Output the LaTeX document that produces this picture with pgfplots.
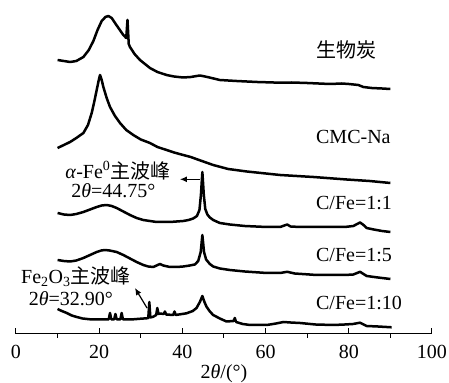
\documentclass[border=0pt]{standalone}
\usepackage{pgfplots}
\pgfplotsset{compat=1.18}
\usetikzlibrary{arrows.meta}
\usepackage{fontspec}
\setmainfont{Liberation Serif}
\newfontfamily\cjk{Noto Sans CJK SC}
\newcommand{\fs}{\fontsize{20}{24}\selectfont}
\begin{document}
\begin{tikzpicture}
\begin{axis}[
  scale only axis, width=416pt, height=334pt,
  xmin=0, xmax=100, ymin=49, ymax=383,
  axis x line=bottom, axis y line=none, ytick=\empty,
  x axis line style={-, line width=1pt, black},
  xtick={0,20,...,100}, minor xtick={10,30,...,90},
  tick align=inside, major tick length=6pt, minor tick length=-4pt,
  tick style={black, line width=1pt},
  /pgf/number format/assume math mode=true,
  xticklabel style={font=\fs, anchor=north, inner sep=0pt},
  xticklabel shift=11pt,
  clip=false,
  every axis plot/.append style={line width=2.5pt, line join=round, no markers},
]
% biochar
\addplot[black] table[y expr=383-\thisrow{py}] {
x py
10 60
11.5 61
13 62
14.5 61
16.2 57
17.5 50
18.6 41
19.6 30
20.6 21
21.5 17
22.2 16
23 18
23.8 23
24.8 29
25.8 35
26.5 38
26.8 20
27.1 44
27.4 47
28.5 54
29.8 60
31 64
32.2 68
34 72
36.2 75
38 76.5
40.2 77.5
42 77
44.2 75.5
46 77
49 80
53 81
58 82
63.5 82.7
66.3 82.5
70 83
75.5 84
78.3 83.5
80 84
82.3 85
83.5 87
85.5 88
88 88.5
90 89
};
% CMC-Na
\addplot[black] table[y expr=383-\thisrow{py}] {
x py
10 148
11.5 145
13 142
14.5 138
16.2 133
17.3 125
18.2 113
18.8 102
19.4 90
19.9 80
20.2 75
20.6 80
21 87
21.8 98
22.6 107
23.8 116
25 123
26.5 130
28.2 135
30 139.5
32.2 143
34 147
36.2 150
38 152.5
40.2 155
42 157
44 160
47.4 165
51 169
55.5 171.5
63.5 175
71.5 177
79.5 179.5
85 181
90 183
};
% C/Fe=1:1
\addplot[black] table[y expr=383-\thisrow{py}] {
x py
10 213
11.5 214.5
13 215
14.5 214
16.2 212
17.8 209.5
19.4 207
20.6 205.5
21.8 205
23 206
24.2 208
25.8 211.5
27.4 215
29 218
30.6 220
32.2 221
33.8 222
35.4 222
37 222
38.6 221.5
40.2 221
41.5 220
42.6 218.5
43.5 216
44.1 210
44.45 195
44.8 172
45.15 195
45.5 209
46 214.5
46.6 217.5
47.4 220
49 223
51.4 224.5
55 226
60.3 227
63.5 227
64.5 225.5
65.2 224.5
66 226.5
68.3 227
72 227
76.3 227
79 227
81.1 226
82 224
82.7 222.5
83.4 224.5
84.3 228
86 229.5
88 231
90 232
};
% C/Fe=1:5
\addplot[black] table[y expr=383-\thisrow{py}] {
x py
10 260
11.5 261
13 261.5
14.5 260.5
16.2 258
17.8 255
19.4 252
20.5 250.5
21.4 250
22.5 250.5
24.2 252
25.8 255
27.4 258.5
29 262
30.6 265
31.8 266.5
33 267
33.8 265.5
34.6 264
35.4 265.5
37 267
38.6 267
40.2 266.5
41.8 265.5
43 264.5
43.8 261
44.4 252
44.8 235
45.2 252
45.7 259.5
46.6 264
47.4 266.5
49 268.5
51.4 270
55 271.5
60.3 273
63.5 273
65.2 271.8
67 273.5
72.3 275
76 275
79 275
81.1 274.5
82.7 271.8
84.3 276
87 277.5
90 279
};
% C/Fe=1:10
\addplot[black] table[y expr=383-\thisrow{py}] {
x py
10 309
11 311
12.2 313
13.4 315.5
14.6 317
16 318.5
17.8 319.3
20 319.5
22.3 319.3
22.6 313
22.9 319.3
23.6 319.3
23.9 314
24.2 319.3
25.1 319.3
25.4 313
25.7 319.3
28.2 319.3
30 318.7
31.4 318.3
31.8 318
32.05 302
32.3 317.5
33 316.7
33.7 315
33.97 308
34.25 314
34.6 313.5
35.5 314
35.8 311.5
36.1 314.5
37.8 315
38.1 311.5
38.4 315
41 313.3
42.5 311
43.4 308
44.2 302
44.8 296
45.3 302
45.8 306.7
46.6 311.5
47.4 315
49 318.5
50.6 321.5
52.3 321
52.6 318
52.9 322
54.5 324
56.3 325
60.3 325
62.5 323.5
64.3 322
66 322.5
68.3 323
72 324.5
76.3 325
79 324.5
81 324
82.7 322.7
84.3 326
87 326.5
90.3 327.3
};
% labels
\node[anchor=west, inner sep=0pt, font=\fs] at (axis cs:72.1,333) {\cjk 生物炭};
\node[anchor=west, inner sep=0pt, font=\fs] at (axis cs:72.1,246) {CMC-Na};
\node[anchor=west, inner sep=0pt, font=\fs] at (axis cs:72.1,180) {C/Fe=1:1};
\node[anchor=west, inner sep=0pt, font=\fs] at (axis cs:72.1,128) {C/Fe=1:5};
\node[anchor=west, inner sep=0pt, font=\fs] at (axis cs:72.1,80.5) {C/Fe=1:10};
% annotations
\node[inner sep=0pt, font=\fs] at (axis cs:24.5,212.5) {\textit{α}-Fe\textsuperscript{0}{\cjk 主波峰}};
\node[inner sep=0pt, font=\fs] at (axis cs:23.4,192) {2\textit{θ}=44.75°};
\draw[-{Latex[length=7pt,width=6pt]}, line width=1.2pt] (axis cs:44.2,203.7) -- (axis cs:39.4,203.7);
\node[inner sep=0pt, font=\fs] at (axis cs:14.4,106) {Fe\textsubscript{2}O\textsubscript{3}{\cjk 主波峰}};
\node[inner sep=0pt, font=\fs] at (axis cs:13.2,84) {2\textit{θ}=32.90°};
\draw[-{Latex[length=7pt,width=6pt]}, line width=1.2pt] (axis cs:31.5,75) -- (axis cs:28.6,95);
% x label
\node[inner sep=0pt, font=\fs] at (axis cs:50,9.8) {2\textit{θ}/(°)};
\coordinate (bbA) at (axis cs:-3.846,0);
\coordinate (bbB) at (axis cs:104.09,383);
\end{axis}
\pgfresetboundingbox
\path[use as bounding box] (bbA) rectangle (bbB);
\end{tikzpicture}
\end{document}
